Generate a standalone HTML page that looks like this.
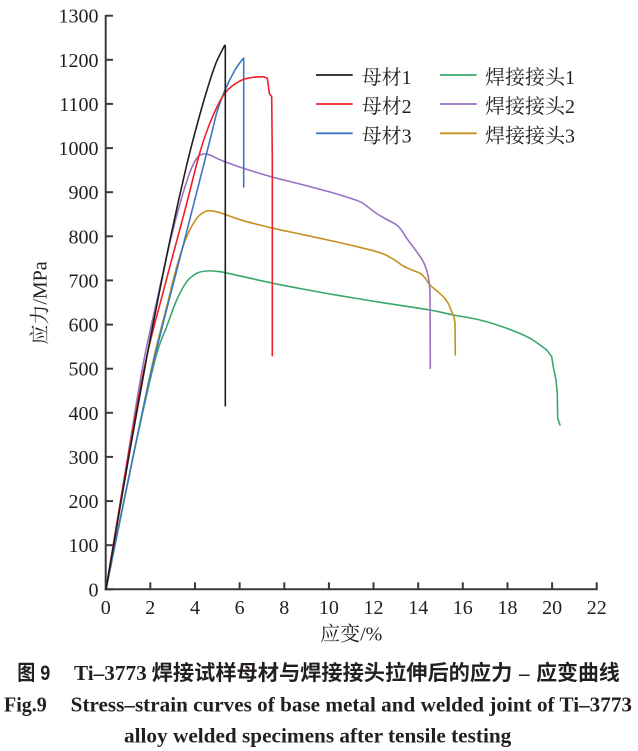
<!DOCTYPE html>
<html>
<head>
<meta charset="utf-8">
<style>
  html, body { margin: 0; padding: 0; background: #ffffff; }
  svg { display: block; }
  .tick { font-family: "Liberation Serif", "Noto Serif CJK SC", serif; font-size: 20px; fill: #231f20; }
  .lbl { font-family: "Liberation Serif", "Noto Serif CJK SC", serif; font-size: 20px; fill: #231f20; }
  .leg { font-family: "Liberation Serif", "Noto Serif CJK SC", serif; font-size: 20px; fill: #231f20; }
  .capcn { font-family: "Liberation Sans", "Noto Sans CJK SC", sans-serif; font-size: 21px; font-weight: bold; fill: #231f20; }
  .capen { font-family: "Liberation Serif", "Noto Serif CJK SC", serif; font-size: 21px; font-weight: bold; fill: #231f20; }
</style>
</head>
<body>
<svg id="chart" width="638" height="751" viewBox="0 0 638 751" xmlns="http://www.w3.org/2000/svg">
  <rect x="0" y="0" width="638" height="751" fill="#ffffff"/>

  <!-- Axes -->
  <g stroke="#3a3a3a" stroke-width="2" fill="none">
    <line x1="105.7" y1="15" x2="105.7" y2="590.3"/>
    <line x1="104.7" y1="589.3" x2="597.7" y2="589.3"/>
    <line x1="105.7" y1="589.3" x2="113" y2="589.3"/>
    <line x1="105.7" y1="545.2" x2="113" y2="545.2"/>
    <line x1="105.7" y1="501.1" x2="113" y2="501.1"/>
    <line x1="105.7" y1="456.9" x2="113" y2="456.9"/>
    <line x1="105.7" y1="412.8" x2="113" y2="412.8"/>
    <line x1="105.7" y1="368.7" x2="113" y2="368.7"/>
    <line x1="105.7" y1="324.6" x2="113" y2="324.6"/>
    <line x1="105.7" y1="280.4" x2="113" y2="280.4"/>
    <line x1="105.7" y1="236.3" x2="113" y2="236.3"/>
    <line x1="105.7" y1="192.2" x2="113" y2="192.2"/>
    <line x1="105.7" y1="148.1" x2="113" y2="148.1"/>
    <line x1="105.7" y1="103.9" x2="113" y2="103.9"/>
    <line x1="105.7" y1="59.8" x2="113" y2="59.8"/>
    <line x1="105.7" y1="15.7" x2="113" y2="15.7"/>
    <line x1="150.3" y1="589.3" x2="150.3" y2="582.3"/>
    <line x1="195.0" y1="589.3" x2="195.0" y2="582.3"/>
    <line x1="239.6" y1="589.3" x2="239.6" y2="582.3"/>
    <line x1="284.3" y1="589.3" x2="284.3" y2="582.3"/>
    <line x1="328.9" y1="589.3" x2="328.9" y2="582.3"/>
    <line x1="373.5" y1="589.3" x2="373.5" y2="582.3"/>
    <line x1="418.2" y1="589.3" x2="418.2" y2="582.3"/>
    <line x1="462.8" y1="589.3" x2="462.8" y2="582.3"/>
    <line x1="507.5" y1="589.3" x2="507.5" y2="582.3"/>
    <line x1="552.1" y1="589.3" x2="552.1" y2="582.3"/>
    <line x1="596.7" y1="589.3" x2="596.7" y2="582.3"/>
  </g>

  <!-- Y tick labels -->
  <g class="tick" text-anchor="end">
    <text x="98.5" y="596.3">0</text>
    <text x="98.5" y="552.2">100</text>
    <text x="98.5" y="508.1">200</text>
    <text x="98.5" y="463.9">300</text>
    <text x="98.5" y="419.8">400</text>
    <text x="98.5" y="375.7">500</text>
    <text x="98.5" y="331.6">600</text>
    <text x="98.5" y="287.4">700</text>
    <text x="98.5" y="243.3">800</text>
    <text x="98.5" y="199.2">900</text>
    <text x="98.5" y="155.1">1000</text>
    <text x="98.5" y="110.9">1100</text>
    <text x="98.5" y="66.8">1200</text>
    <text x="98.5" y="22.7">1300</text>
  </g>

  <!-- X tick labels -->
  <g class="tick" text-anchor="middle">
    <text x="105.7" y="614">0</text>
    <text x="150.3" y="614">2</text>
    <text x="195.0" y="614">4</text>
    <text x="239.6" y="614">6</text>
    <text x="284.3" y="614">8</text>
    <text x="328.9" y="614">10</text>
    <text x="373.5" y="614">12</text>
    <text x="418.2" y="614">14</text>
    <text x="462.8" y="614">16</text>
    <text x="507.5" y="614">18</text>
    <text x="552.1" y="614">20</text>
    <text x="596.7" y="614">22</text>
  </g>

  <!-- Axis labels -->
  <text class="lbl" x="351.2" y="640.5" text-anchor="middle">应变/%</text>
  <text class="lbl" transform="translate(46.5,303) rotate(-90)" text-anchor="middle">应力/MPa</text>

  <!-- Curves -->
  <g fill="none" stroke-width="1.6" stroke-linejoin="round" stroke-linecap="round">
    <!-- 焊接接头1 green -->
    <polyline class="sm" stroke="#3aa86a" points="106,589.3 133,457 155,360 166.7,326.7 176.7,300 186.7,281.7 196.7,273.3 206.7,271 220,271.7 243.3,276.7 273.3,283.3 300,288.5 330,294 360,299 386.7,303.3 430,310 453.3,315 480,320 506.7,328.3 530,338.3 546.7,350"/>
    <polyline stroke="#3aa86a" points="546.7,350 551.7,356.7 553.3,366.7 556,380 557.3,393.3 557.7,418.3 560,425"/>
    <!-- 焊接接头3 yellow -->
    <polyline class="sm" stroke="#c6901e" points="106,589.3 133,457 153.3,360 166.7,306.7 176.7,266.7 186.7,236.7 196.7,218.3 205,211.7 210,210.7 220,212.7 243.3,220.7 273.3,228.3 300,234 320,238.3 350,245 380,252.7 393,259 403.3,266 412,270 420,273.3 425,278 430,285 437,291 443.3,296.7 448,303 451.7,311.7 454,317 455,323.3"/>
    <polyline stroke="#c6901e" points="455,323.3 455.3,355"/>
    <!-- 焊接接头2 purple -->
    <polyline class="sm" stroke="#9a72c2" points="106,589.3 127.7,457 143,365 157,300 170,242 181,200 190,172 197,158 203.3,154 210,155 216.7,158.3 225,161.7 243.3,168.3 273.3,177.3 300,184 330,192 345,196.5 360,201.7 368,207 375,212.5 385,218.5 396.7,225 402,231 406.7,238.3 416.7,251.7 423.3,261.7 426.5,270 428.3,276.7 429.5,285 430,293.3"/>
    <polyline stroke="#9a72c2" points="430,293.3 430.3,368.3"/>
    <!-- 母材3 blue -->
    <polyline class="sm" stroke="#3a78c4" points="106,589.3 133,457 154,360 182,250 210,140 217,112 225,90 235,70 243.3,58.3"/>
    <polyline stroke="#3a78c4" points="243.3,58.3 243.7,58.8 243.7,187"/>
    <!-- 母材2 red -->
    <polyline class="sm" stroke="#f0202a" points="106,589.3 128,457 146,360 165,285 185,210 200,152 212,118 225,93 240,81 252,77.5 263.3,76.7"/>
    <polyline stroke="#f0202a" points="263.3,76.7 267.3,78.3 268.3,85 269.3,93.3 271.7,96.7 272.3,160 272.3,355.7"/>
    <!-- 母材1 black -->
    <polyline class="sm" stroke="#1e1e1e" points="106,589.3 130,450 150,340 170,240 186,168 197,125 207,90 216,63 224.7,45.3"/>
    <polyline stroke="#1e1e1e" points="224.7,45.3 225.3,46 225.3,405.7"/>
  </g>

  <!-- Legend -->
  <g stroke-width="1.8">
    <line x1="316" y1="75" x2="352.7" y2="75" stroke="#1e1e1e"/>
    <line x1="316" y1="104" x2="352.7" y2="104" stroke="#f0202a"/>
    <line x1="316" y1="133.3" x2="352.7" y2="133.3" stroke="#3a78c4"/>
    <line x1="440" y1="75" x2="476.7" y2="75" stroke="#3aa86a"/>
    <line x1="440" y1="104" x2="476.7" y2="104" stroke="#9a72c2"/>
    <line x1="440" y1="133.3" x2="476.7" y2="133.3" stroke="#c6901e"/>
  </g>
  <g class="leg">
    <text x="361.7" y="84">母材1</text>
    <text x="361.7" y="113">母材2</text>
    <text x="361.7" y="142.3">母材3</text>
    <text x="485" y="84">焊接接头1</text>
    <text x="485" y="113">焊接接头2</text>
    <text x="485" y="142.3">焊接接头3</text>
  </g>

  <!-- Caption -->
  <text class="capcn" x="17.3" y="680" textLength="33" lengthAdjust="spacingAndGlyphs">图 9</text>
  <text class="capen" x="74" y="680" textLength="72.7" lengthAdjust="spacingAndGlyphs">Ti–3773</text>
  <text class="capcn" x="151.7" y="680" textLength="360.6" lengthAdjust="spacingAndGlyphs">焊接试样母材与焊接接头拉伸后的应力</text>
  <text class="capen" x="519" y="680">–</text>
  <text class="capcn" x="536.3" y="680" textLength="83.4" lengthAdjust="spacingAndGlyphs">应变曲线</text>

  <text class="capen" x="4" y="711.7" textLength="42.7" lengthAdjust="spacingAndGlyphs">Fig.9</text>
  <text class="capen" x="70.7" y="711.7" textLength="561.3" lengthAdjust="spacingAndGlyphs">Stress–strain curves of base metal and welded joint of Ti–3773</text>
  <text class="capen" x="124" y="742.3" textLength="387.3" lengthAdjust="spacingAndGlyphs">alloy welded specimens after tensile testing</text>
</svg>
<script>
(function () {
  var NS = "http://www.w3.org/2000/svg";
  var lines = document.querySelectorAll("polyline.sm");
  for (var k = 0; k < lines.length; k++) {
    var pl = lines[k];
    var pts = pl.getAttribute("points").trim().split(/\s+/).map(function (p) {
      return p.split(",").map(Number);
    });
    var n = pts.length;
    var d = "M" + pts[0][0] + "," + pts[0][1];
    for (var i = 0; i < n - 1; i++) {
      var p0 = pts[i - 1] || pts[i];
      var p1 = pts[i];
      var p2 = pts[i + 1];
      var p3 = pts[i + 2] || pts[i + 1];
      var c1x = p1[0] + (p2[0] - p0[0]) / 6;
      var c1y = p1[1] + (p2[1] - p0[1]) / 6;
      var c2x = p2[0] - (p3[0] - p1[0]) / 6;
      var c2y = p2[1] - (p3[1] - p1[1]) / 6;
      d += " C" + c1x.toFixed(2) + "," + c1y.toFixed(2) + " " +
           c2x.toFixed(2) + "," + c2y.toFixed(2) + " " +
           p2[0] + "," + p2[1];
    }
    var path = document.createElementNS(NS, "path");
    path.setAttribute("d", d);
    path.setAttribute("stroke", pl.getAttribute("stroke"));
    pl.parentNode.replaceChild(path, pl);
  }
})();
</script>
</body>
</html>
